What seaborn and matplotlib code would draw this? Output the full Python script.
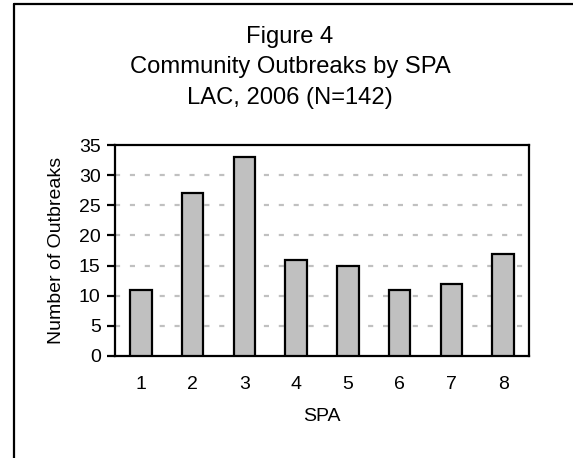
import matplotlib
matplotlib.use("Agg")
import matplotlib.pyplot as plt
from matplotlib.lines import Line2D
import seaborn as sns
import pandas as pd

# Community outbreaks per Service Planning Area, LAC 2006
spa_labels = ["1", "2", "3", "4", "5", "6", "7", "8"]
outbreaks = [11, 27, 33, 16, 15, 11, 12, 17]
y_ticks = [0, 5, 10, 15, 20, 25, 30, 35]
title_lines = ["Figure 4", "Community Outbreaks by SPA", "LAC, 2006 (N=142)"]

sns.set_style("white")
plt.rcParams["font.family"] = ["Liberation Sans", "DejaVu Sans"]

W, H, DPI = 573, 458, 100
fig = plt.figure(figsize=(W / DPI, H / DPI), dpi=DPI)
fig.patch.set_facecolor("white")

# axes placed in pixel terms
left, right, top, bottom = 115, 529, 145, 356
ax = fig.add_axes([left / W, 1 - bottom / H, (right - left) / W, (bottom - top) / H])

df = pd.DataFrame({"SPA": spa_labels, "Outbreaks": outbreaks})
sns.barplot(data=df, x="SPA", y="Outbreaks", ax=ax, color="#c0c0c0",
            saturation=1, edgecolor="black", linewidth=1.6, width=0.42, zorder=3)

ax.set_ylim(0, 35)
ax.set_xlim(-0.5, len(spa_labels) - 0.5)
ax.set_yticks(y_ticks)
ax.set_yticklabels([str(v) for v in y_ticks])

# dashed horizontal gridlines
for v in y_ticks[1:-1]:
    ax.axhline(v, color="#c0c0c0", linewidth=1.6, linestyle=(0, (2.3, 4.4)), zorder=1)

for s in ax.spines.values():
    s.set_visible(True)
    s.set_color("black")
    s.set_linewidth(1.6)

ax.tick_params(axis="y", direction="out", length=5.8, width=1.6, pad=4.5,
               labelsize=14, colors="black", left=True)
ax.tick_params(axis="x", length=0, pad=14.5, labelsize=14, colors="black")

ax.set_xlabel("SPA", fontsize=14, color="black")
ax.set_ylabel("Number of Outbreaks", fontsize=14, color="black")
ax.xaxis.set_label_coords(0.5, -0.248)
ax.yaxis.set_label_coords(-0.12, 0.5)

# three-line title
for txt, base in zip(title_lines, [43, 73, 104]):
    fig.text(290 / W, 1 - base / H, txt, ha="center", va="baseline",
             fontsize=17.1, color="black")

# chart frame (left and top edges visible)
fig.add_artist(Line2D([14 / W, 14 / W], [1 - 4 / H, 0], transform=fig.transFigure,
                      color="black", linewidth=1.6))
fig.add_artist(Line2D([14 / W, 1], [1 - 4 / H, 1 - 4 / H], transform=fig.transFigure,
                      color="black", linewidth=1.6))

fig.savefig("out.png", dpi=DPI)
